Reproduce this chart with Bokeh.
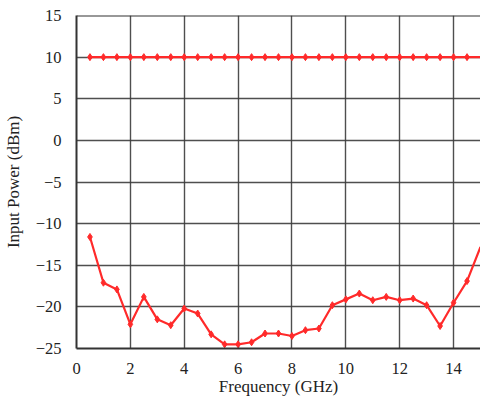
from bokeh.plotting import figure
from bokeh.models import Range1d, FixedTicker, Span
from bokeh.embed import file_html
from bokeh.resources import INLINE

freq = [0.5, 1.0, 1.5, 2.0, 2.5, 3.0, 3.5, 4.0, 4.5, 5.0, 5.5, 6.0, 6.5, 7.0, 7.5,
        8.0, 8.5, 9.0, 9.5, 10.0, 10.5, 11.0, 11.5, 12.0, 12.5, 13.0, 13.5, 14.0, 14.5, 15.0]
input_high = [10] * len(freq)
input_low = [-11.6, -17.1, -17.9, -22.1, -18.8, -21.5, -22.2, -20.2, -20.8, -23.3,
             -24.5, -24.5, -24.25, -23.2, -23.2, -23.5, -22.8, -22.6, -19.8, -19.1,
             -18.4, -19.2, -18.8, -19.2, -19.0, -19.8, -22.3, -19.5, -16.9, -12.8]

x_ticks = [0, 2, 4, 6, 8, 10, 12, 14]
y_ticks = [-25, -20, -15, -10, -5, 0, 5, 10, 15]
y_tick_labels = ["\u221225", "\u221220", "\u221215", "\u221210", "\u22125", "0", "5", "10", "15"]

FONT = "Liberation Serif"
RED = "#ff2a2a"
GRID = "#3c3c3c"

p = figure(width=475, height=393, frame_width=404, frame_height=333,
           x_range=Range1d(0, 15), y_range=Range1d(-25, 15),
           output_backend="svg", toolbar_location=None,
           min_border_left=71, min_border_right=0, min_border_top=15, min_border_bottom=45)

p.outline_line_color = None
p.background_fill_color = "white"

p.xaxis.ticker = FixedTicker(ticks=x_ticks)
p.yaxis.ticker = FixedTicker(ticks=y_ticks)
p.yaxis.major_label_overrides = {t: l for t, l in zip(y_ticks, y_tick_labels)}

for ax in (p.xaxis, p.yaxis):
    ax.major_label_text_font = FONT
    ax.major_label_text_font_size = "16.5px"
    ax.major_label_text_color = "#222222"
    ax.axis_label_text_font = FONT
    ax.axis_label_text_font_size = "17px"
    ax.axis_label_text_font_style = "normal"
    ax.axis_label_text_color = "#222222"
    ax.major_tick_line_color = None
    ax.minor_tick_line_color = None
    ax.axis_line_color = "#333333"
    ax.axis_line_width = 2

p.xaxis.axis_label = "Frequency (GHz)"
p.yaxis.axis_label = "Input Power (dBm)"
p.xaxis.major_label_standoff = 8
p.yaxis.major_label_standoff = 9
p.xaxis.axis_label_standoff = 0
p.yaxis.axis_label_standoff = 10

p.xgrid.grid_line_color = GRID
p.ygrid.grid_line_color = GRID
p.xgrid.grid_line_width = 1.4
p.ygrid.grid_line_width = 1.4
p.xgrid.grid_line_alpha = 0.9
p.ygrid.grid_line_alpha = 0.9

p.add_layout(Span(location=15, dimension="width", line_color="#333333", line_width=2))

p.line(freq, input_high, line_color=RED, line_width=2.2)
p.scatter(freq[:-1], input_high[:-1], marker="diamond", size=7, color=RED)
p.line(freq, input_low, line_color=RED, line_width=2.2)
p.scatter(freq[:-1], input_low[:-1], marker="diamond", size=7, color=RED)

open("out.html", "w").write(file_html(p, INLINE))
